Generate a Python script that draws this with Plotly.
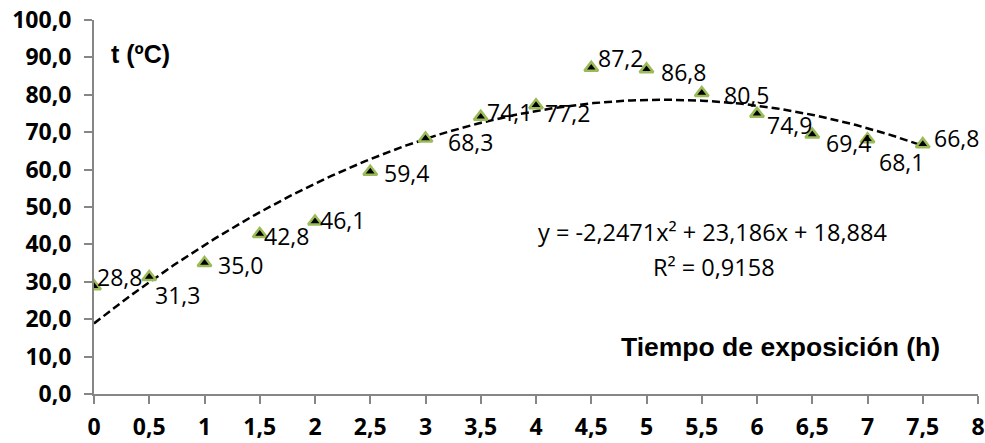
import numpy as np
import plotly.graph_objects as go

# ---- data ----
hours = [0, 0.5, 1, 1.5, 2, 2.5, 3, 3.5, 4, 4.5, 5, 5.5, 6, 6.5, 7, 7.5]
temps = [28.8, 31.3, 35.0, 42.8, 46.1, 59.4, 68.3, 74.1, 77.2, 87.2, 86.8, 80.5, 74.9, 69.4, 68.1, 66.8]
x_ticks = [0, 0.5, 1, 1.5, 2, 2.5, 3, 3.5, 4, 4.5, 5, 5.5, 6, 6.5, 7, 7.5, 8]
x_tick_labels = ["0", "0,5", "1", "1,5", "2", "2,5", "3", "3,5", "4", "4,5", "5", "5,5", "6", "6,5", "7", "7,5", "8"]
y_ticks = [0, 10, 20, 30, 40, 50, 60, 70, 80, 90, 100]
y_tick_labels = ["0,0", "10,0", "20,0", "30,0", "40,0", "50,0", "60,0", "70,0", "80,0", "90,0", "100,0"]
equation_text = "y = -2,2471x² + 23,186x + 18,884"
r2_text = "R² = 0,9158"

# label pixel offsets (dx right, dy down) relative to each point
label_offsets = [(25, -9), (28, 18), (36, 2), (27, 2), (27, -2), (36, 1), (45, 3), (29, -5),
                 (31, 8), (29, -10), (37, 3), (45, 2), (32, 11), (36, 9), (34, 23), (34, -6)]

# polynomial (order 2) trend line fitted to the data
coef = np.polyfit(hours, temps, 2)
xt = np.linspace(min(hours), max(hours), 200)
yt = np.polyval(coef, xt)

GREY = "#868686"
BOLD = "Liberation Sans"
REG = "Open Sans"

fig = go.Figure()
fig.add_trace(go.Scatter(x=xt, y=yt, mode="lines",
                         line=dict(color="black", width=2.5, dash="8px,4px"),
                         hoverinfo="skip", showlegend=False))
fig.add_trace(go.Scatter(x=hours, y=temps, mode="markers",
                         marker=dict(symbol="triangle-up", size=12, color="black",
                                     line=dict(color="#9BBB59", width=2.5)),
                         showlegend=False))

for (xv, yv), (dx, dy) in zip(zip(hours, temps), label_offsets):
    fig.add_annotation(x=xv, y=yv, xref="x", yref="y", text=f"{yv:.1f}".replace(".", ","),
                       showarrow=False, xshift=dx, yshift=-dy,
                       font=dict(family=REG, size=23, color="black"))

fig.add_annotation(x=0.425, y=90.8, xref="x", yref="y", text="<b>t (ºC)</b>", showarrow=False,
                   font=dict(family=BOLD, size=25, color="black"))
fig.add_annotation(x=5.60, y=43.4, xref="x", yref="y", text=equation_text, showarrow=False,
                   font=dict(family=REG, size=23.5, color="black"))
fig.add_annotation(x=5.61, y=34.0, xref="x", yref="y", text=r2_text, showarrow=False,
                   font=dict(family=REG, size=23.5, color="black"))
fig.add_annotation(x=6.21, y=12.6, xref="x", yref="y", text="<b>Tiempo de exposición (h)</b>",
                   showarrow=False, font=dict(family=BOLD, size=26.5, color="black"))

tickfont = dict(family=REG, size=23, color="black", weight="bold")
fig.update_layout(
    width=985, height=443,
    margin=dict(l=94, r=7, t=20, b=49, autoexpand=False),
    plot_bgcolor="white", paper_bgcolor="white",
    separators=",.",
    xaxis=dict(range=[0, 8], tickvals=x_ticks, ticktext=x_tick_labels, automargin=False,
               showgrid=False, zeroline=False, showline=True, linecolor=GREY, linewidth=2,
               ticks="outside", ticklen=8, tickcolor=GREY, tickwidth=2,
               tickfont=tickfont, ticklabelstandoff=3),
    yaxis=dict(range=[0, 100], tickvals=y_ticks, ticktext=y_tick_labels, automargin=False,
               showgrid=False, zeroline=False, showline=True, linecolor=GREY, linewidth=2,
               ticks="outside", ticklen=8, tickcolor=GREY, tickwidth=2,
               tickfont=tickfont, ticklabelstandoff=8),
)

fig.write_html("out.html")
